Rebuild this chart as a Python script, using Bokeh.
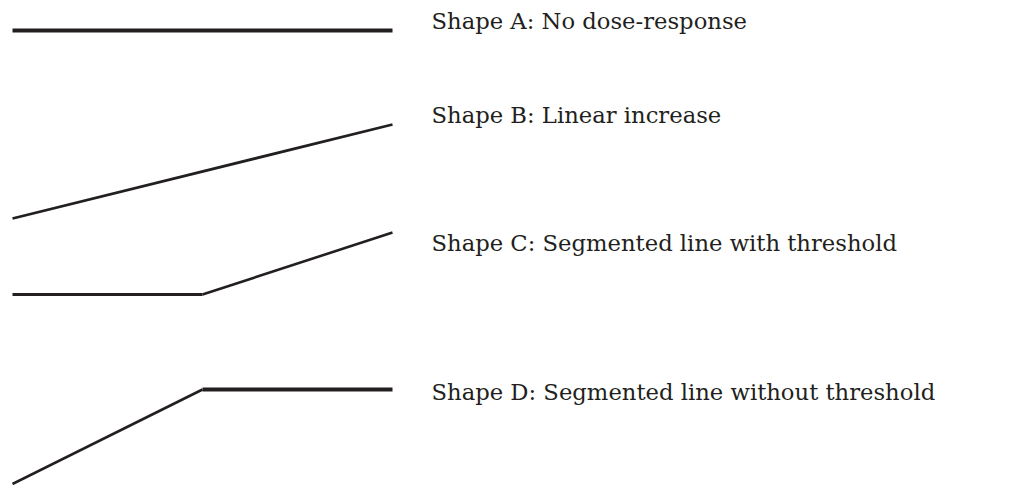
from bokeh.plotting import figure
from bokeh.models import Range1d, ColumnDataSource
from bokeh.core.properties import value
from bokeh.embed import file_html
from bokeh.resources import INLINE

# Dose axis (arbitrary units), threshold at 0.5
dose_A = [0.0, 1.0]
resp_A = [45.3, 45.3]

dose_B = [0.0, 1.0]
resp_B = [26.5, 35.9]

dose_C = [0.0, 0.5, 1.0]
resp_C = [18.9, 18.9, 25.1]

dose_D = [0.0, 0.5, 1.0]
resp_D = [-0.05, 9.4, 9.4]

labels = [
    "Shape A: No dose-response",
    "Shape B: Linear increase",
    "Shape C: Segmented line with threshold",
    "Shape D: Segmented line without threshold",
]
label_x = [1.1026, 1.1026, 1.1026, 1.1026]
label_y = [46.3, 36.9, 24.1, 9.2]

INK = "#231f20"
H = 485

p = figure(width=1012, height=H, output_backend="svg", toolbar_location=None,
           x_range=Range1d(-12 / 380, -12 / 380 + 1012 / 380),
           y_range=Range1d((483 - H) / 10, 48.3), min_border=0)
p.axis.visible = False
p.grid.visible = False
p.outline_line_color = None
p.background_fill_color = "white"
p.border_fill_color = "white"

p.line(dose_A, resp_A, line_color=INK, line_width=4)
p.line(dose_B, resp_B, line_color=INK, line_width=2.8)
p.line(dose_C[:2], resp_C[:2], line_color=INK, line_width=3.2)
p.line(dose_C[1:], resp_C[1:], line_color=INK, line_width=2.6)
p.line(dose_D[:2], resp_D[:2], line_color=INK, line_width=2.6)
p.line(dose_D[1:], resp_D[1:], line_color=INK, line_width=4)

src = ColumnDataSource(dict(x=label_x, y=label_y, t=labels))
p.text(x="x", y="y", text="t", source=src, text_font=value("DejaVu Serif"),
       text_font_size="22.7px", text_color=INK, text_align="left",
       text_baseline="alphabetic")

open("out.html", "w").write(file_html(p, INLINE))
